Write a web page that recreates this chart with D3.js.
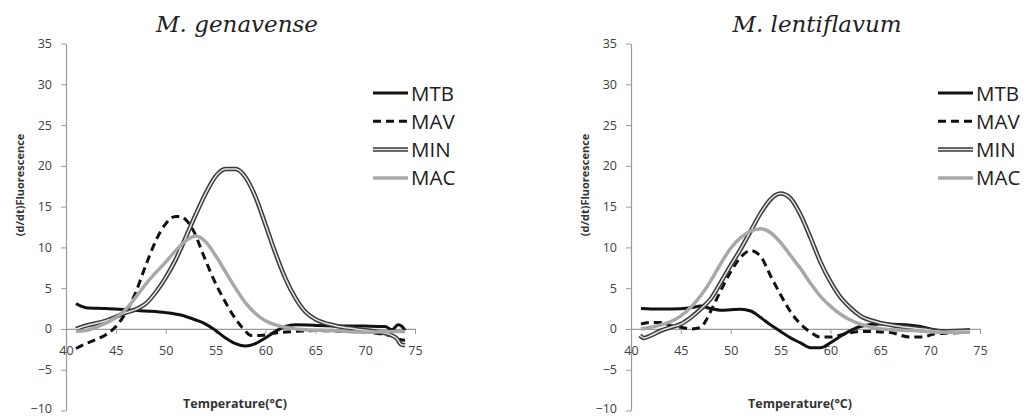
<!DOCTYPE html>
<html>
<head>
<meta charset="utf-8">
<script src="https://cdnjs.cloudflare.com/ajax/libs/d3/7.8.5/d3.min.js"></script>
<style>
    body { margin: 0; background: #fff; }
    svg { display: block; }
</style>
</head>
<body>
<script>

    // temperature ticks and y ticks
    var xTicks = [40, 45, 50, 55, 60, 65, 70, 75];
    var yTicks = [-10, -5, 0, 5, 10, 15, 20, 25, 30, 35];
    var seriesNames = ['MTB', 'MAV', 'MIN', 'MAC'];

    // M. genavense, [temperature, d/dt fluorescence]
    var genMTB = [[41,3.1],[41.5,2.8],[42,2.6],[44,2.5],[46,2.35],[48,2.2],[50,2.0],[51.5,1.7],[53,1.1],[54,0.6],[54.8,0],[56,-1.1],[57,-1.8],[58,-2.1],[59,-1.8],[60,-1.1],[61,-0.3],[62,0.3],[63,0.5],[66,0.4],[70,0.35],[72,0.3],[72.7,-0.1],[73.3,0.5],[73.7,0.3],[74,-0.2]];
    var genMAV = [[41,-2.4],[42,-1.8],[43,-1.3],[44,-0.7],[45,0.3],[46,2.0],[47,4.5],[48,7.8],[49,10.8],[50,12.9],[51,13.8],[51.5,13.8],[52,13.4],[52.8,12.0],[53.8,9.0],[54.8,6.1],[55.8,3.7],[56.8,1.6],[57.8,0],[58.6,-0.8],[59.5,-0.8],[61,-0.5],[63,-0.3],[65,-0.2],[68,-0.3],[70,-0.4],[72,-0.7],[73,-1.0],[73.5,-1.3],[74,-1.4]];
    var genMIN = [[41,0],[42,0.4],[44,1.0],[46,2.0],[47,2.4],[48,3.1],[49,4.5],[50,6.3],[51,8.5],[52,11.2],[53,14.0],[54,16.6],[55,18.7],[56,19.6],[57,19.6],[58,18.6],[59,16.2],[60,12.8],[61,9.3],[62,6.2],[63,3.8],[64,2.1],[65,1.2],[67,0.4],[69,0],[71,-0.3],[72.5,-0.7],[73.2,-1.2],[73.6,-1.9],[74,-2.0]];
    var genMAC = [[41,-0.3],[42,-0.2],[43,0.2],[44,0.7],[45,1.4],[46,2.4],[47,3.9],[48,5.5],[49,6.9],[50,8.2],[51,9.6],[52,10.8],[53,11.4],[54,10.7],[55,9.0],[56,7.0],[57,5.0],[58,3.2],[59,1.9],[60,1.0],[61,0.5],[62.5,0.1],[64,-0.1],[66.5,-0.2],[70,-0.4],[73,-0.3],[74,-0.3]];

    // M. lentiflavum
    var lenMTB = [[41,2.5],[42,2.45],[44,2.45],[46,2.6],[47,2.8],[48,2.5],[49,2.3],[50,2.35],[51,2.4],[52,2.2],[53,1.4],[54,0.5],[55,-0.3],[56,-1.1],[57,-1.7],[58,-2.3],[59,-2.3],[60,-1.7],[61,-0.9],[62,-0.2],[63,0.3],[65,0.6],[67.5,0.5],[69,0.3],[70.8,-0.2],[72,-0.3],[74,-0.1]];
    var lenMAV = [[41,0.6],[42,0.8],[43,0.8],[44,0.4],[45,0.2],[46,0],[47,0.2],[47.5,1.0],[48,2.2],[49,4.7],[50,7.0],[51,8.8],[52,9.6],[53,8.9],[54,6.5],[55,4.2],[56,2.1],[57,0.6],[58,-0.4],[59,-1.0],[60,-1.0],[61.5,-0.6],[63,-0.3],[65.8,-0.4],[68,-1.0],[69.2,-1.0],[70.5,-0.6],[72,-0.5],[74,-0.4]];
    var lenMIN = [[40.9,-0.8],[41.3,-1.1],[42,-0.8],[43,-0.2],[44,0.2],[45,0.6],[46,1.4],[47,2.45],[48,3.7],[49,5.7],[50,7.8],[51,9.8],[52,12.0],[53,14.2],[54,15.9],[55,16.6],[56,16.0],[57,14.0],[58,11.2],[59,8.2],[60,5.8],[61,3.9],[62,2.6],[63,1.6],[64.8,0.8],[66.5,0.4],[69.2,0],[71.5,-0.3],[74,-0.2]];
    var lenMAC = [[41,0],[42,0.2],[43,0.5],[44,0.9],[45,1.6],[46,2.65],[47,4.1],[48,5.9],[49,8.0],[50,9.9],[51,11.2],[52,12.0],[53,12.3],[54,11.8],[55,10.6],[56,9.0],[57,7.4],[58,5.6],[59,4.0],[60,2.8],[61,1.8],[62,1.1],[63,0.6],[65.2,0],[68.2,-0.2],[71.5,-0.4],[74,-0.4]];

    var svg = d3.select('body').append('svg')
        .attr('width', 1024)
        .attr('height', 416);

    // styles for each series, MIN is a double line (dark outer, light inner)
    var styles = {
        MTB: [{ stroke: '#111', width: 3 }],
        MAV: [{ stroke: '#111', width: 3, dash: '8,5' }],
        MIN: [{ stroke: '#3a3a3a', width: 4.5 }, { stroke: '#e6e6e6', width: 1.5 }],
        MAC: [{ stroke: '#a8a8a8', width: 3.5 }]
    };

    function drawPanel(left, titleX, title, data) {
        var x = d3.scaleLinear().domain([40, 75]).range([left, left + 349]);
        var y = d3.scaleLinear().domain([-10, 35]).range([410.5, 43.5]);
        var g = svg.append('g');

        // y axis
        var yAxis = g.append('g')
            .attr('transform', 'translate(' + left + ',0)')
            .call(d3.axisLeft(y).tickValues(yTicks).tickSize(5).tickSizeOuter(0).tickPadding(9));
        // x axis on the zero line
        var xAxis = g.append('g')
            .attr('transform', 'translate(0,' + y(0) + ')')
            .call(d3.axisBottom(x).tickValues(xTicks).tickSize(5).tickSizeOuter(0).tickPadding(12));

        [yAxis, xAxis].forEach(function(a) {
            a.select('.domain').attr('stroke', '#9a9a9a').attr('stroke-width', 1.2);
            a.selectAll('.tick line').attr('stroke', '#9a9a9a');
            a.selectAll('.tick text')
                .attr('fill', '#404040')
                .style('font-family', 'Open Sans')
                .style('font-size', '12.5px');
        });
        // bottom label sits right at the picture edge, lift it a little
        yAxis.selectAll('.tick text')
            .filter(function(d) { return d === -10; })
            .attr('y', -2.5);

        var line = d3.line()
            .x(function(d) { return x(d[0]); })
            .y(function(d) { return y(d[1]); })
            .curve(d3.curveMonotoneX);

        seriesNames.forEach(function(name, i) {
            styles[name].forEach(function(s) {
                g.append('path')
                    .datum(data[i])
                    .attr('d', line)
                    .attr('fill', 'none')
                    .attr('stroke', s.stroke)
                    .attr('stroke-width', s.width)
                    .attr('stroke-dasharray', s.dash || null)
                    .attr('stroke-linejoin', 'round');
            });
        });

        // title
        g.append('text')
            .attr('x', titleX)
            .attr('y', 32)
            .attr('text-anchor', 'middle')
            .style('font-family', 'DejaVu Serif')
            .style('font-style', 'italic')
            .style('font-size', '23px')
            .attr('fill', '#222')
            .text(title);

        // axis titles
        g.append('text')
            .attr('transform', 'translate(' + (left - 42) + ',185) rotate(-90)')
            .attr('text-anchor', 'middle')
            .style('font-family', 'Open Sans')
            .style('font-weight', 'bold')
            .style('font-size', '11px')
            .attr('fill', '#333')
            .text('(d/dt)Fluorescence');
        g.append('text')
            .attr('x', left + 169)
            .attr('y', 408)
            .attr('text-anchor', 'middle')
            .style('font-family', 'Open Sans')
            .style('font-weight', 'bold')
            .style('font-size', '12.5px')
            .attr('fill', '#333')
            .text('Temperature(\u00B0C)');

        // legend
        var lx = left + 307;
        seriesNames.forEach(function(name, i) {
            var ly = 93 + i * 28.3;
            styles[name].forEach(function(s) {
                g.append('line')
                    .attr('x1', lx).attr('x2', lx + 35)
                    .attr('y1', ly).attr('y2', ly)
                    .attr('stroke', s.stroke)
                    .attr('stroke-width', s.width)
                    .attr('stroke-dasharray', s.dash || null);
            });
            g.append('text')
                .attr('x', lx + 38)
                .attr('y', ly + 7.5)
                .style('font-family', 'Open Sans')
                .style('font-size', '20.5px')
                .attr('fill', '#222')
                .text(name);
        });
    }

    drawPanel(66, 237, 'M. genavense', [genMTB, genMAV, genMIN, genMAC]);
    drawPanel(631, 817, 'M. lentiflavum', [lenMTB, lenMAV, lenMIN, lenMAC]);

</script>
</body>
</html>
